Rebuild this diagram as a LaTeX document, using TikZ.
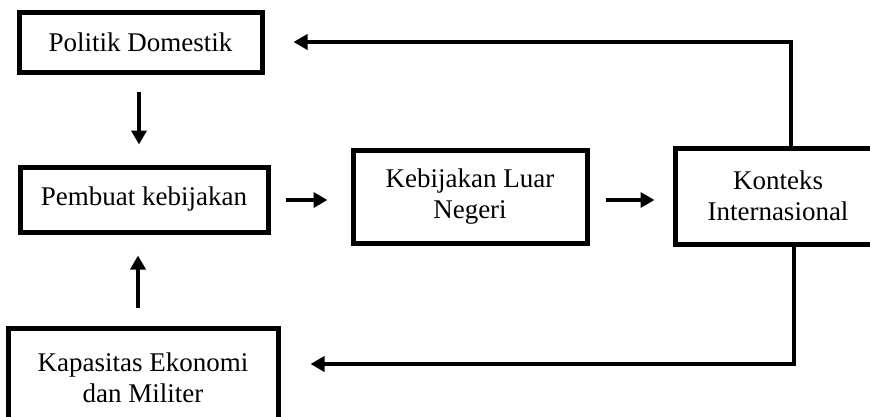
\documentclass[tikz,border=0pt]{standalone}
\usepackage{fontspec}
\setmainfont{Liberation Serif}
\usetikzlibrary{arrows.meta,positioning}

\begin{document}
\begin{tikzpicture}[x=1pt,y=1pt,
  policybox/.style={draw,line width=5pt,inner sep=0pt,align=center,font=\fontsize{27}{30.5}\selectfont},
  arrow/.style={-{Triangle[length=14pt,width=15pt]},line width=4pt}
]
  \useasboundingbox (0,0) rectangle (870,-416);
  \node[policybox,minimum width=243pt,minimum height=60pt] (domestic) at (140.5,-42) {Politik Domestik};
  \node[policybox,minimum width=248pt,minimum height=65pt] (maker) at (144,-199.5) {Pembuat kebijakan};
  \node[policybox,minimum width=234pt,minimum height=93pt] (foreign) at (470,-196.5) {Kebijakan Luar\\Negeri};
  \node[policybox,minimum width=206pt,minimum height=96pt] (context) at (778,-196) {Konteks\\Internasional};
  \node[policybox,minimum width=270pt,minimum height=100pt] (capacity) at (143,-378) {Kapasitas Ekonomi\\dan Militer};
  \draw[arrow,shorten <=17pt,shorten >=20pt] ([xshift=-1.5pt]domestic.south) -- ([xshift=-1.5pt]domestic.south |- maker.north);
  \draw[arrow,shorten <=18pt,shorten >=21pt] ([xshift=-6pt]maker.south |- capacity.north) -- ([xshift=-6pt]maker.south);
  \draw[arrow,shorten <=15pt,shorten >=23pt] ([yshift=-0.5pt]maker.east) -- ([yshift=-0.5pt]maker.east -| foreign.west);
  \draw[arrow,shorten <=16pt,shorten >=18pt] ([yshift=-3.5pt]foreign.east) -- ([yshift=-3.5pt]foreign.east -| context.west);
  % feedback from the international context
  \draw[arrow] ([xshift=13pt]context.north) |- ([xshift=29pt]domestic.east);
  \draw[arrow] ([xshift=16pt]context.south) |- ([xshift=30pt,yshift=14pt]capacity.east);
\end{tikzpicture}
\end{document}
